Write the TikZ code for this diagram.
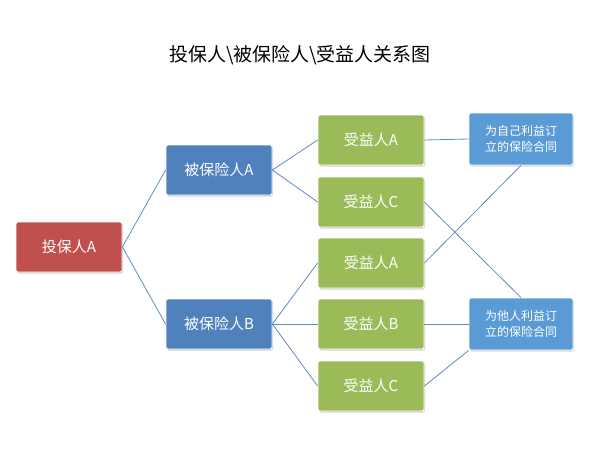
\documentclass[tikz,border=0pt]{standalone}
\usepackage{fontspec}
\setmainfont{Noto Sans CJK SC}
\usetikzlibrary{shadows}
\definecolor{redbox}{HTML}{C0504D}
\definecolor{bluebox}{HTML}{4F81BD}
\definecolor{greenbox}{HTML}{9BBB59}
\definecolor{notebox}{HTML}{5B9BD5}
\definecolor{linkcol}{HTML}{5E8DC0}
\tikzset{
  person/.style={draw=white, line width=0.8pt, rounded corners=2pt, minimum width=106pt,
    minimum height=50pt, text=white, font=\fontsize{15}{17}\selectfont,
    drop shadow={opacity=0.35, shadow xshift=1pt, shadow yshift=-1.5pt}},
  note/.style={draw=white, line width=0.8pt, rounded corners=2pt, fill=notebox,
    minimum width=104pt, minimum height=52pt, text=white, align=center,
    font=\fontsize{12}{16}\selectfont,
    drop shadow={opacity=0.3, shadow xshift=1pt, shadow yshift=-1.5pt}},
  link/.style={draw=linkcol, line width=0.8pt}
}
\begin{document}
\begin{tikzpicture}[x=1pt, y=-1pt]
  \useasboundingbox (0,0) rectangle (600,451);
  \node[font=\fontsize{19}{22}\selectfont] (title) at (300,55) {投保人\textbackslash 被保险人\textbackslash 受益人关系图};
  %% people
  \node[person, fill=redbox] (holder) at (69,247) {投保人A};
  \node[person, fill=bluebox] (insA) at (219,170) {被保险人A};
  \node[person, fill=bluebox] (insB) at (219,324) {被保险人B};
  \node[person, fill=greenbox] (benA1) at (371,140) {受益人A};
  \node[person, fill=greenbox] (benC1) at (371,202) {受益人C};
  \node[person, fill=greenbox] (benA2) at (371,263) {受益人A};
  \node[person, fill=greenbox] (benB) at (371,324) {受益人B};
  \node[person, fill=greenbox] (benC2) at (371,386) {受益人C};
  %% contracts
  \node[note] (self) at (521,139) {为自己利益订\\立的保险合同};
  \node[note] (other) at (521,324) {为他人利益订\\立的保险合同};
  %% links
  \draw[link] (holder.east) -- (insA.west);
  \draw[link] (holder.east) -- (insB.west);
  \draw[link] (insA.east) -- (benA1.west);
  \draw[link] (insA.east) -- (benC1.west);
  \draw[link] (insB.east) -- (benA2.west);
  \draw[link] (insB.east) -- (benB.west);
  \draw[link] (insB.east) -- (benC2.west);
  \draw[link] (benA1.east) -- (self.west);
  \draw[link] (benA2.east) -- (self.south);
  \draw[link] (benC1.east) -- (other.north);
  \draw[link] (benB.east) -- (other.west);
  \draw[link] (benC2.east) -- (other.south west);
\end{tikzpicture}
\end{document}
